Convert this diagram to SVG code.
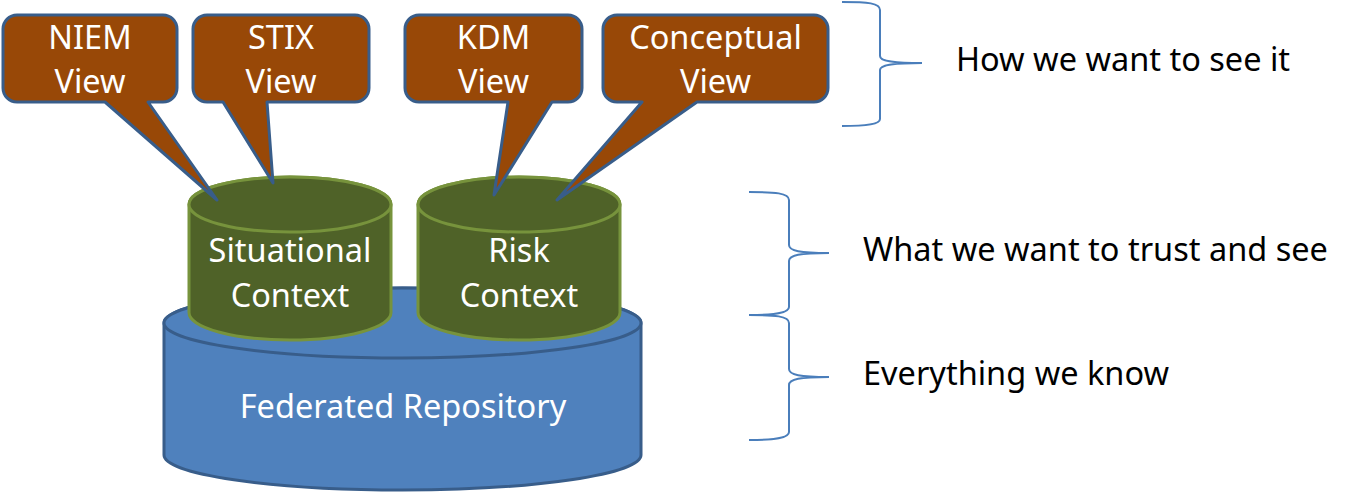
<svg xmlns="http://www.w3.org/2000/svg" width="1356" height="495" viewBox="0 0 1356 495">
<style>
.t{font-family:"Noto Sans","Open Sans","DejaVu Sans",sans-serif;font-size:32.5px}
.w{fill:#ffffff;text-anchor:middle}
.k{fill:#000000}
.callout{fill:#984807;stroke:#385D8A;stroke-width:3;stroke-linejoin:round}
.gc{fill:#4F6228;stroke:#77933C;stroke-width:3}
.bc{fill:#4F81BD;stroke:#385D8A;stroke-width:3}
.brace{fill:none;stroke:#4A7EBB;stroke-width:2}
</style>
<rect width="1356" height="495" fill="#ffffff"/>
<g id="federated-repository">
<path class="bc" d="M164,323 A238.5,35 0 0 1 641,323 V455 A238.5,35 0 0 1 164,455 Z"/>
<ellipse class="bc" cx="402.5" cy="323" rx="238.5" ry="35"/>
<text class="t w" x="403" y="418">Federated Repository</text>
</g>
<g id="situational-context">
<path class="gc" d="M189,204.5 A101,27.5 0 0 1 391,204.5 V312.5 A101,27.5 0 0 1 189,312.5 Z"/>
<ellipse class="gc" cx="290" cy="204.5" rx="101" ry="27.5"/>
<text class="t w" x="290" y="262">Situational</text>
<text class="t w" x="290" y="307">Context</text>
</g>
<g id="risk-context">
<path class="gc" d="M418,204.5 A101,27.5 0 0 1 620,204.5 V312.5 A101,27.5 0 0 1 418,312.5 Z"/>
<ellipse class="gc" cx="519" cy="204.5" rx="101" ry="27.5"/>
<text class="t w" x="519" y="262">Risk</text>
<text class="t w" x="519" y="307">Context</text>
</g>
<g id="niem-view">
<path class="callout" d="M17,15 H163 A14,14 0 0 1 177,29 V88 A14,14 0 0 1 163,102 H148 L217,200 L105,102 H17 A14,14 0 0 1 3,88 V29 A14,14 0 0 1 17,15 Z"/>
<text class="t w" x="90" y="49">NIEM</text>
<text class="t w" x="90" y="93">View</text>
</g>
<g id="stix-view">
<path class="callout" d="M207,15 H355 A14,14 0 0 1 369,29 V88 A14,14 0 0 1 355,102 H267 L273,183 L223,102 H207 A14,14 0 0 1 193,88 V29 A14,14 0 0 1 207,15 Z"/>
<text class="t w" x="281" y="49">STIX</text>
<text class="t w" x="281" y="93">View</text>
</g>
<g id="kdm-view">
<path class="callout" d="M419,15 H568 A14,14 0 0 1 582,29 V88 A14,14 0 0 1 568,102 H552 L494,195 L508,102 H419 A14,14 0 0 1 405,88 V29 A14,14 0 0 1 419,15 Z"/>
<text class="t w" x="493.5" y="49">KDM</text>
<text class="t w" x="493.5" y="93">View</text>
</g>
<g id="conceptual-view">
<path class="callout" d="M617,15 H814 A14,14 0 0 1 828,29 V88 A14,14 0 0 1 814,102 H697 L557,200 L642,102 H617 A14,14 0 0 1 603,88 V29 A14,14 0 0 1 617,15 Z"/>
<text class="t w" x="715.5" y="49">Conceptual</text>
<text class="t w" x="715.5" y="93">View</text>
</g>
<g id="connectors">
<path class="brace" d="M842,2 C868,2 880,3 880,10 V56 C880,61 891,63 922,63 C891,63 880,65 880,70 V119 C880,124 868,126 842,126"/>
<path class="brace" d="M749,192 C775,192 789,193 789,200 V245 C789,251 800,253 829,253 C800,253 789,255 789,261 V307 C789,313 775,315 749,315"/>
<path class="brace" d="M749,315 C775,315 789,316 789,323 V369 C789,375 800,377 829,377 C800,377 789,379 789,385 V432 C789,438 775,440 749,440"/>
</g>
<g id="labels">
<text class="t k" x="956" y="71">How we want to see it</text>
<text class="t k" x="863" y="261">What we want to trust and see</text>
<text class="t k" x="863" y="385">Everything we know</text>
</g>
</svg>
